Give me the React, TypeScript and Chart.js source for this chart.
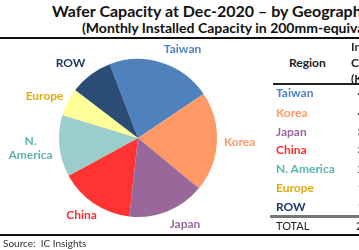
import React, { useEffect, useRef } from "react";
import { Chart, registerables } from "chart.js";

Chart.register(...registerables);

// Monthly installed capacity by region, K wafers (200mm-equivalent)
const regions = ["Taiwan", "Korea", "Japan", "China", "N. America", "Europe", "ROW"];
const capacity = [4480, 4270, 3300, 3200, 2640, 1190, 1840];
const totalCapacity = 20920;
const sliceColors = ["#4F81BD", "#FF9966", "#98689B", "#FF3333", "#9BCDCB", "#FFFF99", "#2B4C74"];
const labelColors = ["#4F81BD", "#FF9966", "#9966A0", "#FF2A2A", "#5AB4B0", "#E0AA10", "#1F3864"];
const pieLabelLines = [["Taiwan"], ["Korea"], ["Japan"], ["China"], ["N.", "America"], ["Europe"], ["ROW"]];
// small horizontal nudges (px) applied to the outside labels
const labelNudgeX = [13, 0, 9, 0, 0, 0, -7];

const FONT = "Lato, 'Open Sans', sans-serif";

const outsideLabels = {
  id: "outsideLabels",
  afterDatasetsDraw(chart: any) {
    const ctx = chart.ctx;
    const meta = chart.getDatasetMeta(0);
    ctx.save();
    ctx.font = `bold 12px ${FONT}`;
    ctx.textAlign = "center";
    ctx.textBaseline = "middle";
    const lineH = 14;
    meta.data.forEach((arc: any, i: number) => {
      const p = arc.getProps(["x", "y", "startAngle", "endAngle", "outerRadius"], true);
      const mid = (p.startAngle + p.endAngle) / 2;
      const lines = pieLabelLines[i];
      const w = Math.max(...lines.map((l: string) => ctx.measureText(l).width));
      const h = lines.length * lineH;
      const gap = 7;
      const cx = Math.cos(mid);
      const cy = Math.sin(mid);
      const x = p.x + (p.outerRadius + gap) * cx + (cx * w) / 2 + labelNudgeX[i];
      const y = p.y + (p.outerRadius + gap) * cy + (cy * h) / 2;
      ctx.fillStyle = labelColors[i];
      lines.forEach((l: string, k: number) => {
        ctx.fillText(l, x, y - h / 2 + lineH / 2 + k * lineH);
      });
    });
    ctx.restore();
  },
};

function PieChart() {
  const ref = useRef<HTMLCanvasElement | null>(null);
  useEffect(() => {
    if (!ref.current) return;
    const chart = new Chart(ref.current, {
      type: "pie",
      data: {
        labels: regions,
        datasets: [
          {
            data: capacity,
            backgroundColor: sliceColors,
            borderWidth: 0,
          },
        ],
      },
      options: {
        responsive: false,
        animation: false,
        devicePixelRatio: 1,
        rotation: -21,
        layout: { padding: 25 },
        plugins: {
          legend: { display: false },
          tooltip: { enabled: false },
        },
      },
      plugins: [outsideLabels],
    });
    return () => chart.destroy();
  }, []);
  return (
    <canvas
      ref={ref}
      width={276}
      height={208}
      style={{ position: "absolute", left: 0, top: 34, width: 276, height: 208 }}
    />
  );
}

const abs = (s: React.CSSProperties): React.CSSProperties => ({ position: "absolute", whiteSpace: "nowrap", ...s });

export default function App() {
  const rowY = [93, 113, 132, 150, 169, 188, 207];
  return (
    <div
      style={{
        position: "fixed",
        left: 0,
        top: 0,
        width: 359,
        height: 250,
        overflow: "hidden",
        background: "#fff",
        fontFamily: FONT,
        color: "#111",
      }}
    >
      <div style={abs({ left: 52, top: 1, fontSize: 16, fontWeight: 700, lineHeight: "19px" })}>
        Wafer Capacity at Dec-2020 – by Geographic Region
      </div>
      <div style={abs({ left: 82, top: 19, fontSize: 14, fontWeight: 700, lineHeight: "17px" })}>
        (Monthly Installed Capacity in 200mm-equivalent Wafers)
      </div>
      <div style={abs({ left: 0, top: 37, width: 359, height: 2, background: "#111" })} />

      <PieChart />

      {/* regional capacity table */}
      <div style={abs({ left: 289, top: 55, fontSize: 12, fontWeight: 700, lineHeight: "16px", color: "#222" })}>
        Region
      </div>
      <div style={abs({ left: 351, top: 39, fontSize: 12, fontWeight: 700, lineHeight: "16px", color: "#222" })}>
        <div>Installed</div>
        <div>Capacity</div>
        <div>(K Wafers)</div>
      </div>
      <div style={abs({ left: 273, top: 83, width: 86, height: 1.5, background: "#222" })} />
      {regions.map((r, i) => (
        <React.Fragment key={r}>
          <div
            style={abs({
              left: 276,
              top: rowY[i] - 8,
              fontSize: 12,
              fontWeight: 700,
              lineHeight: "16px",
              color: labelColors[i],
            })}
          >
            {r}
          </div>
          <div style={abs({ left: 357.5, top: rowY[i] - 8, fontSize: 12, lineHeight: "16px", color: "#222" })}>
            {capacity[i].toLocaleString("en-US")}
          </div>
        </React.Fragment>
      ))}
      <div style={abs({ left: 270, top: 215, width: 89, height: 3, background: "#777" })} />
      <div style={abs({ left: 276, top: 219, fontSize: 11, lineHeight: "14px", color: "#222" })}>TOTAL</div>
      <div style={abs({ left: 356, top: 219, fontSize: 11, lineHeight: "14px", color: "#222" })}>
        {totalCapacity.toLocaleString("en-US")}
      </div>
      <div style={abs({ left: 0, top: 234, width: 359, height: 2, background: "#111" })} />
      <div style={abs({ left: 3, top: 237, fontSize: 10, lineHeight: "12px", color: "#333" })}>Source:&nbsp; IC Insights</div>
    </div>
  );
}
